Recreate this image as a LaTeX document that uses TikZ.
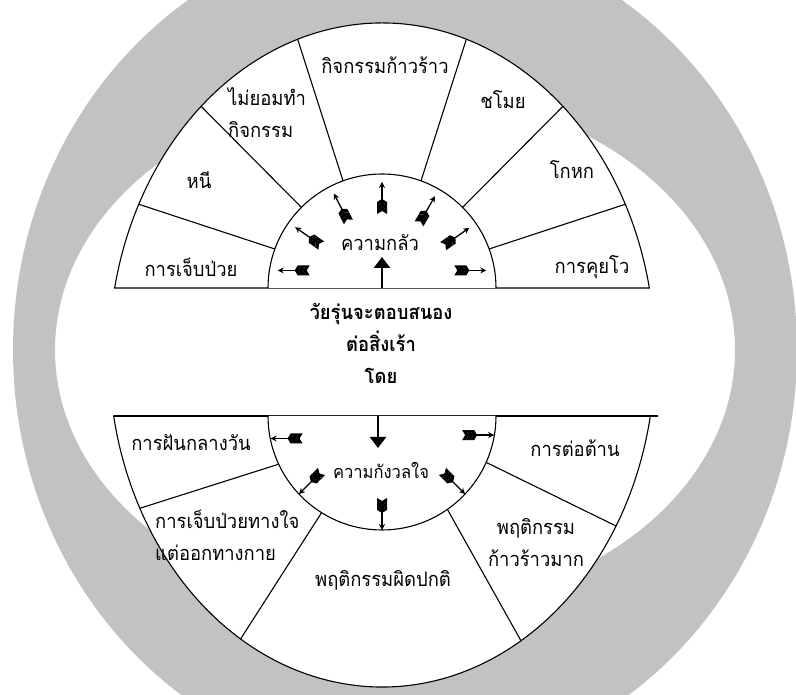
\documentclass[tikz,border=0pt]{standalone}
\usepackage{fontspec}
\newfontfamily\thai[Script=Thai,FakeStretch=0.92]{Loma}
\usetikzlibrary{arrows.meta,calc}
\definecolor{ringgray}{gray}{0.76}
\tikzset{
  lbl/.style={font=\thai\fontsize{20}{32}\selectfont, inner sep=0pt},
  lblleft/.style={lbl, align=left, anchor=west},
  lblmid/.style={lbl, align=center},
  part/.style={draw, fill=white, line width=1.1pt},
  fletch/.pic={
    \draw[line width=1.3pt, -{Stealth[length=6pt,width=6pt]}] (-15,0) -- (14,0);
    \foreach \f in {-15,-11,-7}
      \fill (\f,0) -- ++(-3,5) -- ++(4,0) -- ++(3,-5) -- ++(-3,-5) -- ++(-4,0) -- cycle;
  }
}
\begin{document}
\begin{tikzpicture}[x=1pt,y=1pt]
  \useasboundingbox (0,0) rectangle (796,695);
  \clip (0,0) rectangle (796,695);

  % Gray ring
  \fill[ringgray, even odd rule] (405,345) ellipse [x radius=392, y radius=420]
                                 (395,345) ellipse [x radius=340, y radius=260];

  \coordinate (E) at (382,340);
  \coordinate (U) at (382,407);
  \coordinate (L) at (382,279);

  % Upper half
  \path[part] (E) ++(11.64:273 and 332) arc[start angle=11.64, end angle=168.36, x radius=273, y radius=332] -- cycle;
  \foreach \t/\p in {160/153, 135/131.5, 110/108, 70/72, 45/48.5, 20/27}
    \draw[line width=1.1pt] ($(U)+(\t:114)$) -- ($(E)+(\p:273 and 332)$);
  \path[part] ($(U)+(-114,0)$) arc[start angle=180, end angle=0, radius=114];

  % Lower half
  \path[part] (E) ++(-10.59:273 and 332) arc[start angle=-10.59, end angle=-169.41, x radius=273, y radius=332] -- cycle;
  \draw[line width=2.4pt] ($(E)+(-10.59:273 and 332)+(8,0)$) -- ($(E)+(-169.41:273 and 332)$);
  \foreach \t/\p in {205/207.5, 238/238.8, 305/300.6, 336/329}
    \draw[line width=1.1pt] ($(L)+(\t:114)$) -- ($(E)+(\p:273 and 332)$);
  \path[part] ($(L)+(-114,0)$) arc[start angle=180, end angle=360, radius=114];

  % Arrows
  \foreach \a/\d in {169/180, 145/145, 117/117, 90/90, 60/60, 34.5/35, 11/0}
    \pic[rotate=\d] at ($(U)+(\a:92)$) {fletch};
  \foreach \a/\d in {193/180, 223/225, 270/270, 317/315, 349/0}
    \pic[rotate=\d] at ($(L)+(\a:100)$) {fletch};
  \draw[line width=2.8pt, -{Triangle[length=11pt,width=16pt]}] (U) -- ++(0,31);
  \draw[line width=2.8pt, -{Triangle[length=11pt,width=16pt]}] ($(L)+(-4,0)$) -- ++(0,-32);

  % Labels, upper
  \node[lblmid] (aggr) at (385,630) {กิจกรรมก้าวร้าว};
  \node[lblleft] (refuse) at (228,582) {ไม่ยอมทำ\\กิจกรรม};
  \node[lblmid] (flee) at (199,515) {หนี};
  \node[lblmid] (ill) at (191,428) {การเจ็บป่วย};
  \node[lblmid] (steal) at (503,595) {ชโมย};
  \node[lblmid] (lie) at (572,525) {โกหก};
  \node[lblmid] (boast) at (592,428) {การคุยโว};
  \node[lblmid] (fear) at (380,452) {ความกลัว};

  % Middle
  \node[lblmid, font=\thai\bfseries\fontsize{20}{32}\selectfont] (resp) at (381,352)
    {วัยรุ่นจะตอบสนอง\\ต่อสิ่งเร้า\\โดย};

  % Labels, lower
  \node[lblmid] (dream) at (191,252) {การฝันกลางวัน};
  \node[lblmid] (resist) at (575,247) {การต่อต้าน};
  \node[lblmid, font=\thai\fontsize{18}{32}\selectfont] (anx) at (381,225) {ความกังวลใจ};
  \node[lblleft] (psych) at (155,160) {การเจ็บป่วยทางใจ\\แต่ออกทางกาย};
  \node[lblmid] (abn) at (383,115) {พฤติกรรมผิดปกติ};
  \node[lblmid] (vaggr) at (536,152) {พฤติกรรม\\ก้าวร้าวมาก};
\end{tikzpicture}
\end{document}
